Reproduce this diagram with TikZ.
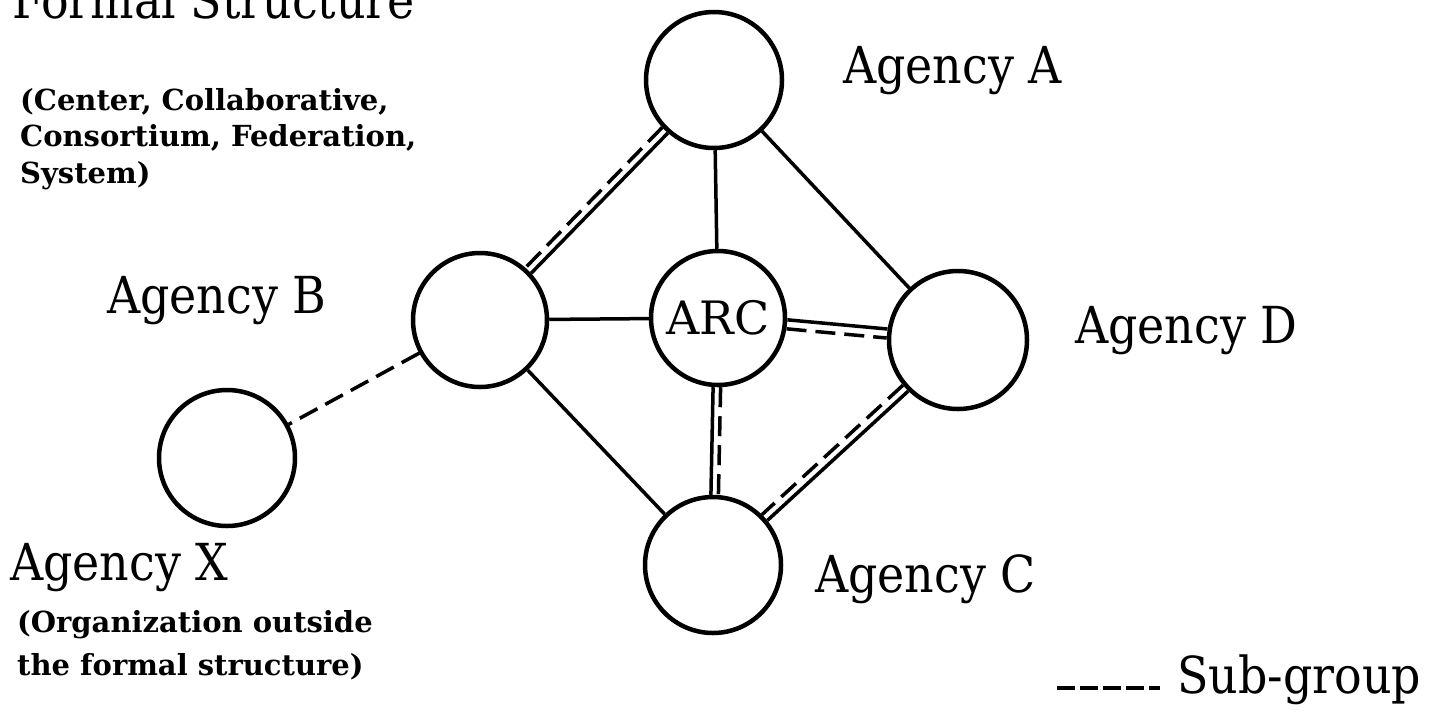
\documentclass[tikz,border=0pt]{standalone}
\usepackage{fontspec}
\setmainfont{DejaVu Serif}
\newfontfamily\labelfont{DejaVu Serif Condensed}
\begin{document}
\begin{tikzpicture}[x=1pt,y=-1pt,
  agency/.style={circle,draw,line width=4.5pt,inner sep=0pt,minimum size=#1},
  agency/.default=134pt,
  link/.style={line width=3.5pt},
  sublink/.style={line width=3.5pt,dash pattern=on 20pt off 9pt},
  label/.style={font=\labelfont\fontsize{51}{60}\selectfont,inner sep=0pt,anchor=base west},
  note/.style={font=\fontsize{29}{36.5}\selectfont\bfseries,inner sep=0pt,anchor=base west,align=left},
]
\useasboundingbox (0,0) rectangle (1438,721);

% agencies
\node[agency=136pt] (A) at (714,80) {};
\node[agency] (B) at (480,320) {};
\node[agency,font=\fontsize{46}{50}\selectfont] (ARC) at (718,318) {ARC};
\node[agency=138pt] (D) at (958,340) {};
\node[agency=136pt] (C) at (713,565) {};
\node[agency=136pt] (X) at (227,458) {};

% plain links
\draw[link] (A) -- (ARC);
\draw[link] (A) -- (D);
\draw[link] (B) -- (ARC);
\draw[link] (B) -- (C);

% links that also carry a sub-group
\draw[link, transform canvas={shift={(2.8pt,-2.8pt)}}] (A) -- (B);
\draw[sublink, transform canvas={shift={(-2.8pt,2.8pt)}}] (A) -- (B);
\draw[link, transform canvas={shift={(0.4pt,4.5pt)}}] (ARC) -- (D);
\draw[sublink, transform canvas={shift={(-0.4pt,-4.5pt)}}] (ARC) -- (D);
\draw[link, transform canvas={shift={(-3.5pt,0pt)}}] (ARC) -- (C);
\draw[sublink, transform canvas={shift={(4pt,0pt)}}] (ARC) -- (C);
\draw[link, transform canvas={shift={(2.7pt,-2.9pt)}}] (D) -- (C);
\draw[sublink, transform canvas={shift={(-2.7pt,2.9pt)}}] (D) -- (C);

% outside organisation
\draw[sublink] (B) -- (X);

% labels (multi-line notes sit on the baseline of their last line)
\node[label] (title) at (12,18) {Formal Structure};
\node[note] (kinds) at (20,183) {(Center, Collaborative,\\Consortium, Federation,\\System)};
\node[label] (la) at (843,83) {Agency A};
\node[label] (lb) at (107,313) {Agency B};
\node[label] (ld) at (1075,343) {Agency D};
\node[label] (lc) at (815,592) {Agency C};
\node[label] (lx) at (10,580) {Agency X};
\node[note,font=\fontsize{29}{43}\selectfont\bfseries] (outside) at (17,675) {(Organization outside\\the formal structure)};

% legend
\coordinate (k1) at (1057,688);
\coordinate (k2) at (1160,688);
\draw[line width=3.3pt,dash pattern=on 18pt off 5pt] (k1) -- (k2);
\node[label] (sub) at (1177,693) {Sub-group};
\end{tikzpicture}
\end{document}
